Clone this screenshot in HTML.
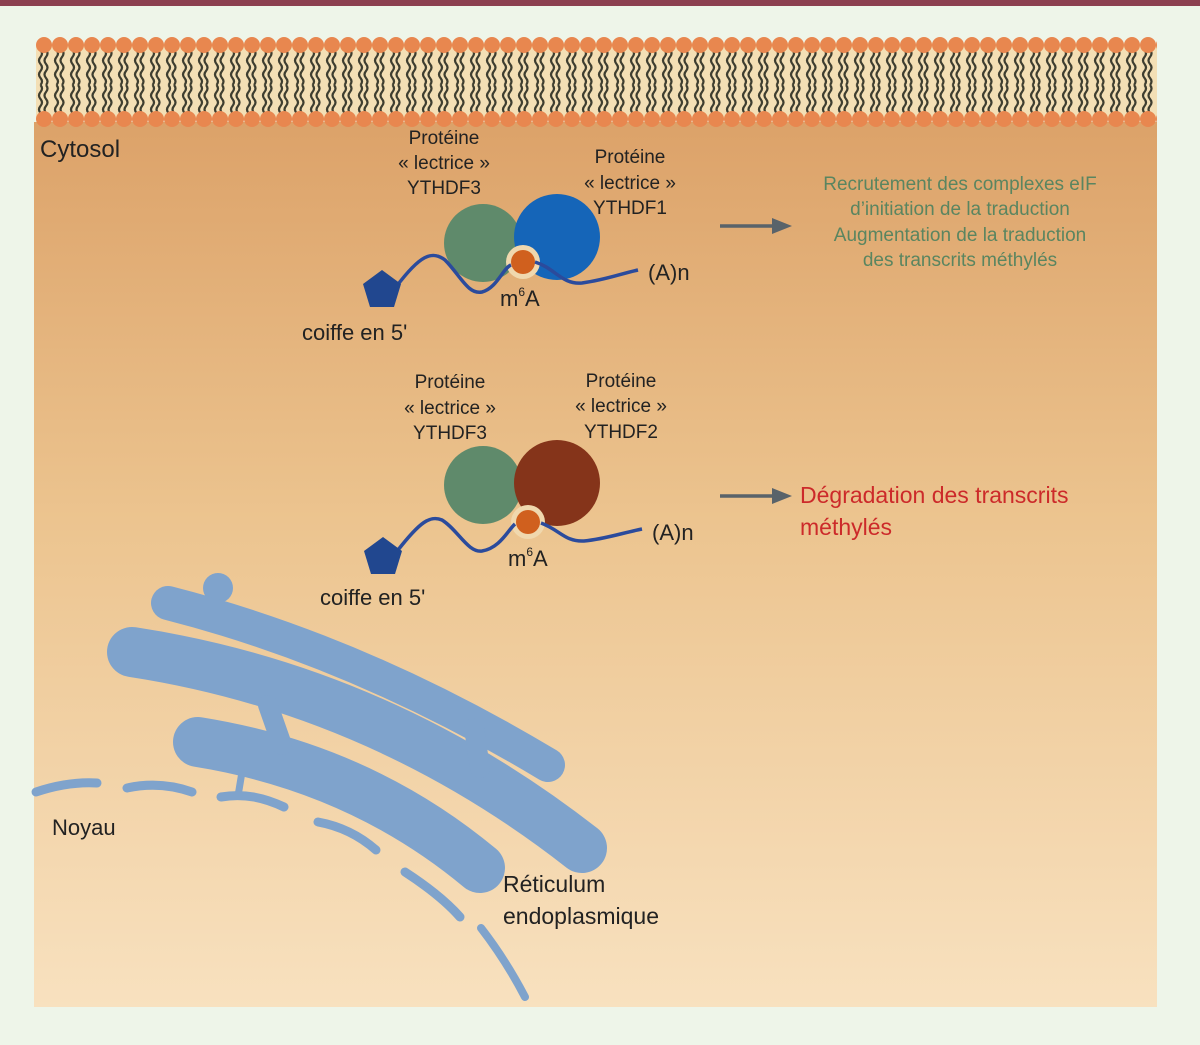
<!DOCTYPE html>
<html><head><meta charset="utf-8"><style>
html,body{margin:0;padding:0;background:#eef5e9;}
svg{display:block;}
text{font-family:"Liberation Sans",sans-serif;}
</style></head><body>
<svg width="1200" height="1045" viewBox="0 0 1200 1045" xmlns="http://www.w3.org/2000/svg">
<defs>
<linearGradient id="bg" x1="0" y1="0" x2="0" y2="1">
<stop offset="0" stop-color="#dca269"/>
<stop offset="0.45" stop-color="#ecc48f"/>
<stop offset="1" stop-color="#f8e1bf"/>
</linearGradient>
<pattern id="tails" x="36" y="50" width="16" height="70" patternUnits="userSpaceOnUse">
<path d="M4.5,0 q3,3.5 0,7 t0,7 t0,7 t0,7 t0,7" fill="none" stroke="#3e3e30" stroke-width="2.2"/>
<path d="M10,0 q3,3.5 0,7 t0,7 t0,7 t0,7 t0,7" fill="none" stroke="#3e3e30" stroke-width="2.2"/>
<path d="M4.5,35 q3,3.5 0,7 t0,7 t0,7 t0,7 t0,7" fill="none" stroke="#3e3e30" stroke-width="2.2"/>
<path d="M10,35 q3,3.5 0,7 t0,7 t0,7 t0,7 t0,7" fill="none" stroke="#3e3e30" stroke-width="2.2"/>
</pattern>
<pattern id="heads" x="36" y="35" width="16" height="20" patternUnits="userSpaceOnUse">
<circle cx="8" cy="10" r="8" fill="#e8874f"/>
</pattern>
<pattern id="heads2" x="36" y="109" width="16" height="20" patternUnits="userSpaceOnUse">
<circle cx="8" cy="10" r="8" fill="#e8874f"/>
</pattern>
</defs>
<rect x="0" y="0" width="1200" height="6" fill="#8c4050"/>
<rect x="34" y="122" width="1123" height="885" fill="url(#bg)"/>
<rect x="36" y="45" width="1121" height="75" fill="#f3dfb5"/>
<rect x="36" y="50" width="1121" height="70" fill="url(#tails)"/>
<rect x="36" y="35" width="1121" height="20" fill="url(#heads)"/>
<rect x="36" y="109" width="1121" height="20" fill="url(#heads2)"/>

<text x="40" y="157" font-size="24" fill="#222">Cytosol</text>

<g font-size="19" fill="#222" text-anchor="middle">
<text x="444" y="144">Protéine</text><text x="444" y="169">« lectrice »</text><text x="444" y="194">YTHDF3</text>
<text x="630" y="163">Protéine</text><text x="630" y="189">« lectrice »</text><text x="630" y="214">YTHDF1</text>
<text x="450" y="388">Protéine</text><text x="450" y="414">« lectrice »</text><text x="450" y="439">YTHDF3</text>
<text x="621" y="387">Protéine</text><text x="621" y="412">« lectrice »</text><text x="621" y="438">YTHDF2</text>
</g>
<circle cx="483" cy="243" r="39" fill="#5f8a6b"/>
<circle cx="557" cy="237" r="43" fill="#1565b8"/>
<circle cx="523" cy="262" r="17" fill="#f0d8ae"/>
<circle cx="523" cy="262" r="12" fill="#d0601e"/>
<path d="M396,287 C420,255 432,250 445,260 C460,275 468,295 482,292 C497,288 503,268 511,265 M535,262 C555,268 562,285 582,283 C605,280 620,274 638,270" fill="none" stroke="#2b4b9c" stroke-width="3.5"/>
<polygon points="382,270 401,284 394,307 370,307 363,284" fill="#21478f"/>
<text x="648" y="280" font-size="22" fill="#222">(A)n</text>
<text x="500" y="306" font-size="22" fill="#222">m<tspan font-size="12" dy="-10">6</tspan><tspan dy="10">A</tspan></text>
<text x="302" y="340" font-size="22" fill="#222">coiffe en 5'</text>

<line x1="720" y1="226" x2="776" y2="226" stroke="#59636a" stroke-width="3.5"/>
<polygon points="772,218 792,226 772,234" fill="#59636a"/>
<g font-size="19" fill="#5a8560" text-anchor="middle">
<text x="960" y="190">Recrutement des complexes eIF</text>
<text x="960" y="215">d’initiation de la traduction</text>
<text x="960" y="241">Augmentation de la traduction</text>
<text x="960" y="266">des transcrits méthylés</text>
</g>

<circle cx="483" cy="485" r="39" fill="#5f8a6b"/>
<circle cx="557" cy="483" r="43" fill="#85341a"/>
<circle cx="528" cy="522" r="17" fill="#f0d8ae"/>
<circle cx="528" cy="522" r="12" fill="#d0601e"/>
<path d="M398,550 C420,522 430,515 442,520 C458,530 468,553 482,551 C500,548 508,530 515,524 M541,523 C560,530 565,542 584,541 C605,539 622,533 642,529" fill="none" stroke="#2b4b9c" stroke-width="3.5"/>
<polygon points="383,537 402,551 395,574 371,574 364,551" fill="#21478f"/>
<text x="652" y="540" font-size="22" fill="#222">(A)n</text>
<text x="508" y="566" font-size="22" fill="#222">m<tspan font-size="12" dy="-10">6</tspan><tspan dy="10">A</tspan></text>
<text x="320" y="605" font-size="22" fill="#222">coiffe en 5'</text>

<line x1="720" y1="496" x2="776" y2="496" stroke="#59636a" stroke-width="3.5"/>
<polygon points="772,488 792,496 772,504" fill="#59636a"/>
<text x="800" y="503" font-size="23" fill="#cc2a2a">Dégradation des transcrits</text>
<text x="800" y="535" font-size="23" fill="#cc2a2a">méthylés</text>

<!-- ER -->
<g stroke="#7fa3cc" stroke-linecap="round" fill="none">
<circle cx="218" cy="588" r="15" fill="#7fa3cc" stroke="none"/>
<path d="M168,603 Q360,652 548,765" stroke-width="34"/>
<path d="M132,652 Q380,690 582,848" stroke-width="50"/>
<path d="M198,742 Q360,768 480,868" stroke-width="50"/>
<path d="M268,705 L282,745" stroke-width="20"/>
<path d="M474,728 L480,768" stroke-width="20"/>
<g stroke-width="9">
<path d="M36,792 C60,784 80,782 97,783"/>
<path d="M127,788 C150,783 172,785 192,792"/>
<path d="M221,797 C245,793 265,798 284,807"/>
<path d="M242,772 L238,796" stroke-width="7"/>
<path d="M318,822 C340,826 360,836 376,850"/>
<path d="M405,872 C425,885 445,900 460,917"/>
<path d="M481,928 C498,950 512,972 525,997" stroke-width="8"/>
</g>
</g>

<text x="52" y="835" font-size="22" fill="#222">Noyau</text>
<text x="503" y="892" font-size="23" fill="#222">Réticulum</text>
<text x="503" y="924" font-size="23" fill="#222">endoplasmique</text>
</svg>
</body></html>
